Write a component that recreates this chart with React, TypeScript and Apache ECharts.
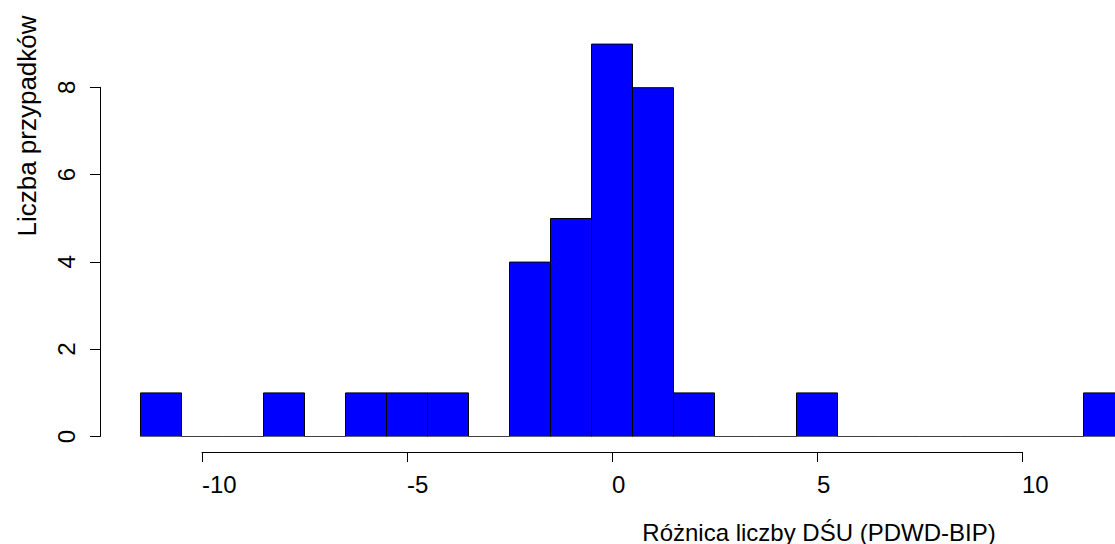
import React, { useEffect, useRef } from "react";
import * as echarts from "echarts";

// Histogram bins (centres, width 1) and counts
const binCenters = [-11, -10, -9, -8, -7, -6, -5, -4, -3, -2, -1, 0, 1, 2, 3, 4, 5, 6, 7, 8, 9, 10, 11, 12];
const counts = [1, 0, 0, 1, 0, 1, 1, 1, 0, 4, 5, 9, 8, 1, 0, 0, 1, 0, 0, 0, 0, 0, 0, 1];
const binWidth = 1;

const xTickMin = -10;
const xTickMax = 10;
const xTickStep = 5;
const yTickMin = 0;
const yTickMax = 8;
const yTickStep = 2;

const xTitle = "Różnica liczby DŚU (PDWD-BIP)";
const yTitle = "Liczba przypadków";

const FONT = "'Liberation Sans', Arial, sans-serif";

export default function App() {
  const ref = useRef<HTMLDivElement>(null);

  useEffect(() => {
    if (!ref.current) return;
    const chart = echarts.init(ref.current, null, { renderer: "svg" });

    const data = binCenters.map((c, i) => [c, counts[i]]);

    const option: any = {
      animation: false,
      backgroundColor: "#ffffff",
      textStyle: { fontFamily: FONT },
      grid: [
        // data grid
        { left: 100, right: 0, top: 0.5, bottom: 107.5, containLabel: false },
        // x axis display grid
        { left: 202, width: 820, top: 400, height: 52, containLabel: false },
        // y axis display grid
        { left: 100, width: 10, top: 87.3, height: 349.2, containLabel: false },
      ],
      xAxis: [
        {
          gridIndex: 0,
          type: "value",
          min: (100 - 612) / 41,
          max: (1115 - 612) / 41,
          show: false,
        },
        {
          gridIndex: 1,
          type: "value",
          min: xTickMin,
          max: xTickMax,
          interval: xTickStep,
          position: "bottom",
          axisLine: { show: true, lineStyle: { color: "#000", width: 1 } },
          axisTick: { show: true, inside: false, length: 10, lineStyle: { color: "#000", width: 1 } },
          axisLabel: { show: true, fontSize: 24, color: "#000", margin: 20, align: "left", fontFamily: FONT },
          splitLine: { show: false },
        },
        { gridIndex: 2, type: "value", show: false },
      ],
      yAxis: [
        { gridIndex: 0, type: "value", min: 0, max: 10, show: false },
        { gridIndex: 1, type: "value", show: false },
        {
          gridIndex: 2,
          type: "value",
          min: yTickMin,
          max: yTickMax,
          interval: yTickStep,
          position: "left",
          axisLine: { show: true, lineStyle: { color: "#000", width: 1 } },
          axisTick: { show: true, inside: false, length: 10, lineStyle: { color: "#000", width: 1 } },
          axisLabel: { show: true, fontSize: 24, color: "#000", margin: 22, rotate: 90, fontFamily: FONT },
          splitLine: { show: false },
        },
      ],
      series: [
        {
          type: "custom",
          xAxisIndex: 0,
          yAxisIndex: 0,
          clip: true,
          data,
          renderItem: (params: any, api: any) => {
            const c = api.value(0);
            const n = api.value(1);
            const p0 = api.coord([c - binWidth / 2, n]);
            const p1 = api.coord([c + binWidth / 2, 0]);
            return {
              type: "rect",
              shape: { x: p0[0], y: p0[1], width: p1[0] - p0[0], height: p1[1] - p0[1] },
              style: { fill: "#0000ff", stroke: "#000", lineWidth: 1 },
            };
          },
        },
      ],
      graphic: [
        {
          type: "text",
          x: 27,
          y: 126,
          rotation: Math.PI / 2,
          style: {
            text: yTitle,
            fontSize: 26,
            fontFamily: FONT,
            fill: "#000",
            align: "center",
            verticalAlign: "middle",
          },
        },
        {
          type: "text",
          x: 819,
          y: 532,
          style: {
            text: xTitle,
            fontSize: 24,
            fontFamily: FONT,
            fill: "#000",
            align: "center",
            verticalAlign: "middle",
          },
        },
      ],
    };

    chart.setOption(option);
    return () => chart.dispose();
  }, []);

  return (
    <div
      ref={ref}
      style={{ position: "absolute", left: 0, top: 0, width: 1115, height: 544 }}
    />
  );
}
